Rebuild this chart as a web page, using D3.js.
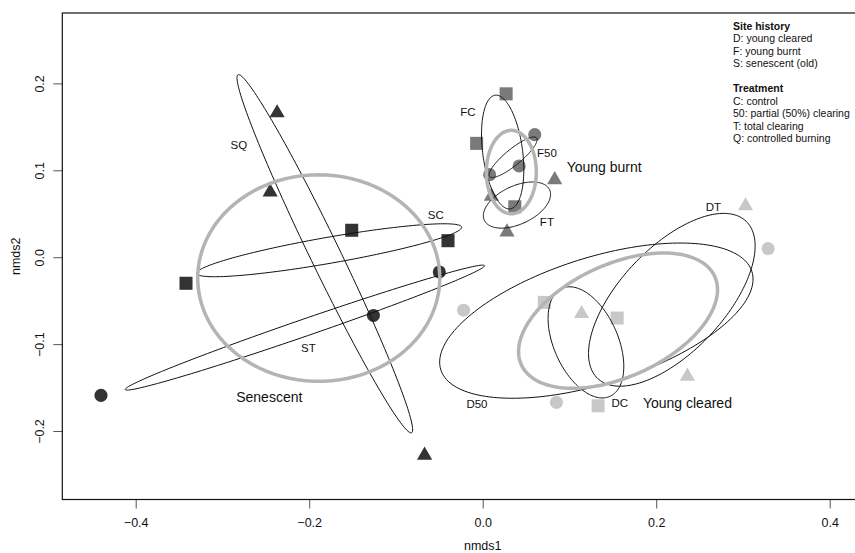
<!DOCTYPE html>
<html lang="en">
<head>
  <meta charset="UTF-8">
  <title>NMDS ordination</title>
  <style>
    body, html {
        margin: 0;
        padding: 0;
        background-color: #FFF;
    }
    svg text {
        font-family: "Liberation Sans", Arial, sans-serif;
        fill: #111;
    }
  </style>
</head>
<body>

<svg id="chart" width="855" height="553"></svg>

<script src="https://d3js.org/d3.v7.min.js"></script>

<script>
/* global d3 */

// site history groups and their treatments (order gives the symbol)
var sites = ["D", "F", "S"];
var siteTreatments = {
  D: ["C", "50", "T"],
  F: ["C", "50", "T"],
  S: ["C", "T", "Q"]
};

// plots
var pointSite  = ["S","S","S", "S","S","S", "S","S","S",
                  "F","F","F", "F","F","F", "F","F","F",
                  "D","D","D", "D","D","D", "D","D","D"];
var pointTreat = ["Q","Q","Q", "C","C","C", "T","T","T",
                  "C","C","C", "50","50","50", "T","T","T",
                  "C","C","C", "50","50","50", "T","T","T"];
var nmds1 = [-0.237, -0.245, -0.067, -0.151, -0.040, -0.342, -0.050, -0.126, -0.440,
              0.027, -0.007,  0.037,  0.060,  0.042,  0.008,  0.083,  0.010,  0.028,
              0.071,  0.155,  0.133, -0.022,  0.329,  0.085,  0.303,  0.114,  0.236];
var nmds2 = [ 0.166,  0.075, -0.228,  0.031,  0.019, -0.030, -0.017, -0.067, -0.159,
              0.188,  0.131,  0.058,  0.141,  0.105,  0.095,  0.089,  0.070,  0.029,
             -0.052, -0.070, -0.171, -0.061,  0.010, -0.167,  0.059, -0.065, -0.137];

// treatment ellipses: centre, semi axes, angle (degrees)
var ellName  = ["SC", "ST", "SQ", "FC", "F50", "FT", "DC", "D50", "DT"];
var ellCx    = [-0.177, -0.205, -0.182, 0.023, 0.035, 0.0395, 0.119, 0.131, 0.218];
var ellCy    = [0.008, -0.081, 0.004, 0.121, 0.115, 0.060, -0.098, -0.073, -0.049];
var ellA     = [0.155, 0.219, 0.229, 0.066, 0.035, 0.0415, 0.068, 0.188, 0.1245];
var ellB     = [0.015, 0.0098, 0.0173, 0.023, 0.0092, 0.022, 0.037, 0.0725, 0.060];
var ellAngle = [9.9, 19, 115.9, 97.5, 39.4, 25, 113.9, 17.5, 46.6];

// site history ellipses
var siteCx    = [0.156, 0.033, -0.189];
var siteCy    = [-0.073, 0.098, -0.024];
var siteA     = [0.1225, 0.048, 0.1395];
var siteB     = [0.0648, 0.0288, 0.1188];
var siteAngle = [24.5, 90, 0];

// text labels placed in ordination space
var labelText = ["SQ", "SC", "ST", "Senescent", "FC", "F50", "Young burnt", "FT",
                 "DT", "D50", "DC", "Young cleared"];
var labelX = [-0.281, -0.054, -0.201, -0.246, -0.017, 0.074, 0.140, 0.074,
               0.266, -0.0066, 0.158, 0.236];
var labelY = [0.129, 0.0486, -0.1045, -0.161, 0.167, 0.120, 0.104, 0.0405,
               0.0577, -0.169, -0.168, -0.168];

var xTicks = [-0.4, -0.2, 0.0, 0.2, 0.4];
var yTicks = [-0.2, -0.1, 0.0, 0.1, 0.2];

var legendLines = [
  {t: "Site history", b: true}, {t: "D: young cleared"}, {t: "F: young burnt"},
  {t: "S: senescent (old)"}, {t: ""},
  {t: "Treatment", b: true}, {t: "C: control"}, {t: "50: partial (50%) clearing"},
  {t: "T: total clearing"}, {t: "Q: controlled burning"}
];

var svg = d3.select("#chart");
var mLeft = 62.3, mRight = 858, mTop = 13, mBottom = 499.5;

var x = d3.scaleLinear().domain([-0.4846, 0.4326]).range([mLeft, mRight]);
var y = d3.scaleLinear().domain([-0.2788, 0.281]).range([mBottom, mTop]);

var siteColor = {D: "#c8c8c8", F: "#7a7a7a", S: "#333333"};
var symbols = [d3.symbolSquare, d3.symbolCircle, d3.symbolTriangle];
var symSize = [170, 135, 100];

// axes
var xAxis = d3.axisBottom(x).tickValues(xTicks).tickSize(9).tickFormat(d3.format(".1f"));
var yAxis = d3.axisLeft(y).tickValues(yTicks).tickSize(9).tickFormat(d3.format(".1f"));

var gx = svg.append("g").attr("transform", "translate(0," + mBottom + ")").call(xAxis);
gx.select(".domain").remove();
gx.selectAll("line").attr("stroke", "#555");
gx.selectAll("text").attr("font-size", 12.5).attr("dy", "1.2em")
  .style("font-family", "Liberation Sans, Arial, sans-serif").attr("fill", "#222");

var gy = svg.append("g").attr("transform", "translate(" + mLeft + ",0)").call(yAxis);
gy.select(".domain").remove();
gy.selectAll("line").attr("stroke", "#555");
gy.selectAll("text")
  .attr("font-size", 12.5)
  .attr("x", null).attr("dy", null)
  .attr("text-anchor", "middle")
  .attr("transform", "translate(-22,0) rotate(-90)")
  .attr("y", 0)
  .attr("dominant-baseline", "central")
  .style("font-family", "Liberation Sans, Arial, sans-serif").attr("fill", "#222");

svg.append("text").attr("x", x(0)).attr("y", 550).attr("text-anchor", "middle")
  .attr("font-size", 12.5).text("nmds1");
svg.append("text").attr("transform", "translate(20," + (mTop + mBottom) / 2 + ") rotate(-90)")
  .attr("text-anchor", "middle").attr("font-size", 12.5).text("nmds2");

// points
var pts = d3.range(nmds1.length);
svg.append("g").selectAll("path").data(pts).enter().append("path")
  .attr("transform", function (i) { return "translate(" + x(nmds1[i]) + "," + y(nmds2[i]) + ")"; })
  .attr("d", function (i) {
    var k = siteTreatments[pointSite[i]].indexOf(pointTreat[i]);
    return d3.symbol().type(symbols[k]).size(symSize[k])();
  })
  .attr("fill", function (i) { return siteColor[pointSite[i]]; });

// ellipse outline in data space
function ellipsePath(cx, cy, a, b, deg) {
  var th = deg * Math.PI / 180, c = Math.cos(th), s = Math.sin(th);
  var pts = d3.range(0, 2 * Math.PI, Math.PI / 90).map(function (t) {
    var u = a * Math.cos(t), v = b * Math.sin(t);
    return [cx + u * c - v * s, cy + u * s + v * c];
  });
  return d3.line().x(function (p) { return x(p[0]); })
    .y(function (p) { return y(p[1]); }).curve(d3.curveLinearClosed)(pts);
}

svg.append("g").selectAll("path").data(ellName).enter().append("path")
  .attr("d", function (d, i) { return ellipsePath(ellCx[i], ellCy[i], ellA[i], ellB[i], ellAngle[i]); })
  .attr("fill", "none").attr("stroke", "#111").attr("stroke-width", 1);

svg.append("g").selectAll("path").data(sites).enter().append("path")
  .attr("d", function (d, i) { return ellipsePath(siteCx[i], siteCy[i], siteA[i], siteB[i], siteAngle[i]); })
  .attr("fill", "none").attr("stroke", "#b4b4b4").attr("stroke-width", 3.5);

// labels
svg.append("g").selectAll("text").data(labelText).enter().append("text")
  .attr("x", function (d, i) { return x(labelX[i]); })
  .attr("y", function (d, i) { return y(labelY[i]); })
  .attr("text-anchor", "middle").attr("dominant-baseline", "central")
  .attr("font-size", function (d) { return d.length > 4 ? 14 : 11.5; })
  .text(function (d) { return d; });

// legend
svg.append("g").selectAll("text").data(legendLines).enter().append("text")
  .attr("x", 733).attr("y", function (d, i) { return 29.5 + i * 12.5; })
  .attr("font-size", 10.5)
  .attr("font-weight", function (d) { return d.b ? "bold" : "normal"; })
  .text(function (d) { return d.t; });

// plot frame
svg.append("rect").attr("x", mLeft).attr("y", mTop)
  .attr("width", mRight - mLeft).attr("height", mBottom - mTop)
  .attr("fill", "none").attr("stroke", "#111").attr("stroke-width", 1.2);
</script>

</body>
</html>
